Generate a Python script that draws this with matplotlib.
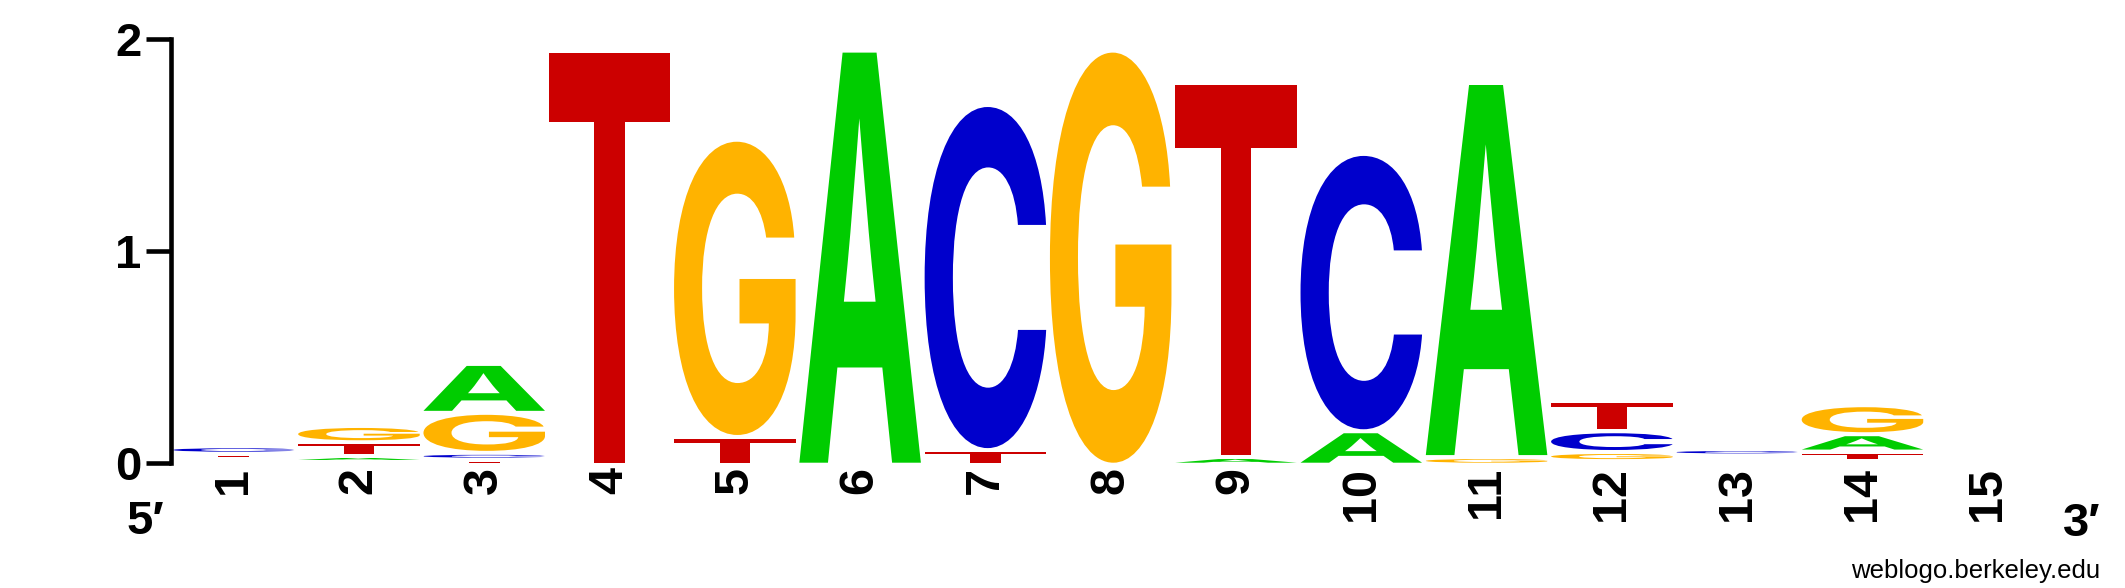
import matplotlib
matplotlib.use("Agg")
import matplotlib.pyplot as plt
from matplotlib.textpath import TextPath
from matplotlib.font_manager import FontProperties
from matplotlib.patches import PathPatch
from matplotlib.transforms import Affine2D

# ---- data (heights in bits, per letter, per position) ----
positions = list(range(1, 16))
tick_labels = [str(p) for p in positions]
letters = ["A", "C", "G", "T"]
height_A = [0.013, 0.028, 0.231, 0.0, 0.0, 1.956, 0.0, 0.0, 0.036, 0.158, 1.767, 0.017, 0.014, 0.082, 0.0]
height_C = [0.035, 0.013, 0.032, 0.0, 0.0, 0.0, 1.630, 0.0, 0.0, 1.310, 0.0, 0.098, 0.030, 0.017, 0.0]
height_G = [0.014, 0.077, 0.189, 0.0, 1.404, 0.0, 0.0, 1.956, 0.0, 0.0, 0.036, 0.043, 0.015, 0.137, 0.0]
height_T = [0.025, 0.065, 0.024, 1.956, 0.131, 0.0, 0.069, 0.0, 1.767, 0.0, 0.0, 0.145, 0.015, 0.045, 0.0]
y_ticks = [0, 1, 2]

colors = {"A": "#00CC00", "C": "#0000CC", "G": "#FFB300", "T": "#CC0000"}

W, H = 2125, 588
fig = plt.figure(figsize=(W / 100, H / 100), dpi=100)
ax = fig.add_axes([171 / W, (H - 462.7) / H, (2050.4 - 171) / W, (462.7 - 39.3) / H])
ax.set_xlim(0.5, 15.5)
ax.set_ylim(0, 2)

fp = FontProperties(family="Inter", weight="bold")
glyphs = {L: TextPath((0, 0), L, size=100, prop=fp) for L in letters}

gap = 4 / 211.7      # visual gap at top of each letter box
glyph_w = 0.97

heights = {"A": height_A, "C": height_C, "G": height_G, "T": height_T}
for i, pos in enumerate(positions):
    stack = sorted(letters, key=lambda L: heights[L][i])
    y = 0.0
    for L in stack:
        h = heights[L][i]
        if h <= 0:
            continue
        dh = h - gap
        if dh > 0:
            path = glyphs[L]
            ext = path.get_extents()
            tr = (Affine2D().translate(-ext.x0, -ext.y0)
                  .scale(glyph_w / ext.width, dh / ext.height)
                  .translate(pos - glyph_w / 2, y))
            ax.add_patch(PathPatch(tr.transform_path(path), facecolor=colors[L],
                                   edgecolor="none", lw=0, clip_on=False))
        y += h

# axes styling
for s in ["top", "right", "bottom"]:
    ax.spines[s].set_visible(False)
ax.spines["left"].set_linewidth(3.3)
ax.spines["left"].set_bounds(0, 2)
fam = ["Liberation Sans", "DejaVu Sans"]
ax.set_yticks(y_ticks)
ax.set_yticklabels([str(v) for v in y_ticks], fontsize=34, fontweight="bold", family=fam)
ax.tick_params(axis="y", length=18, width=3.3, pad=3)
ax.set_xticks(positions)
ax.set_xticklabels(tick_labels, rotation=90, fontsize=35, fontweight="bold",
                   family=fam, va="top", ha="center")
ax.tick_params(axis="x", length=0, pad=3)

fig.text(127 / W, 1 - 522 / H, "5\u2032", fontsize=34, fontweight="bold",
         family=fam, ha="left", va="center")
fig.text(2101 / W, 1 - 524 / H, "3\u2032", fontsize=34, fontweight="bold",
         family=fam, ha="right", va="center")
fig.text(2100 / W, 1 - 578 / H, "weblogo.berkeley.edu", fontsize=18.5,
         family=fam, ha="right", va="baseline")

fig.savefig("out.png", dpi=100)
